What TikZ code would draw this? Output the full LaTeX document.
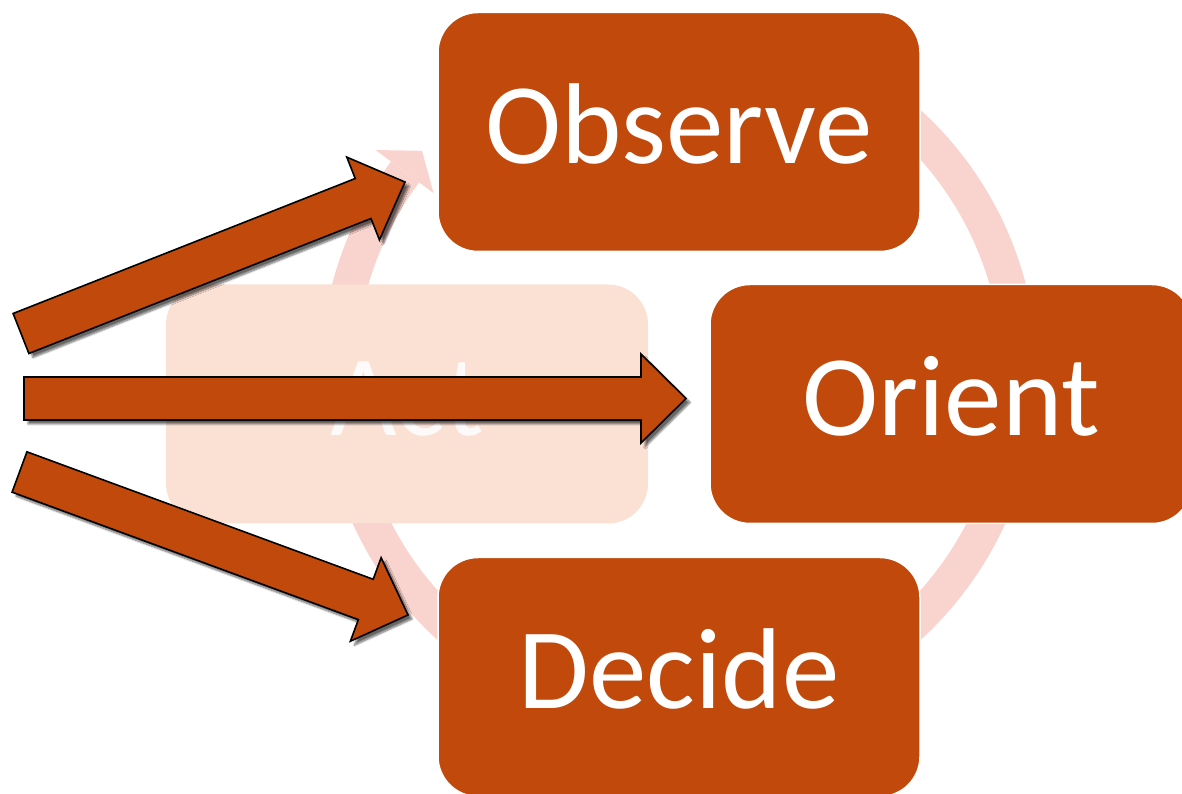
\documentclass[tikz,border=0pt]{standalone}
\usepackage{fontspec}
\setmainfont{Carlito}
\usetikzlibrary{calc,shadows.blur}
\definecolor{rust}{RGB}{192,73,11}
\definecolor{ringpink}{RGB}{249,211,205}
\definecolor{actpeach}{RGB}{251,224,212}
\newcommand\blockarr[2]{%
  \draw[blockarrow] let \p1=($(#2)-(#1)$), \n1={veclen(\x1,\y1)}, \n2={atan2(\y1,\x1)} in
    [shift={(#1)}, rotate=\n2]
    (0,-21.5) -- (\n1-45,-21.5) -- (\n1-45,-44.5) -- (\n1,0) -- (\n1-45,44.5) -- (\n1-45,21.5) -- (0,21.5) -- cycle;%
}
\begin{document}
\begin{tikzpicture}[x=1pt,y=1pt,
  box/.style={rectangle, rounded corners=40pt, minimum width=482pt, minimum height=239pt,
    fill=rust, draw=white, line width=1.5pt, text=white, inner sep=0pt,
    text height=64pt, text depth=0pt, font=\fontsize{115}{120}\selectfont},
  actbox/.style={box, fill=actpeach, draw=none, text=white!85!actpeach},
  ringline/.style={draw=ringpink, line width=35pt},
  blockarrow/.style={fill=rust, draw=black, line width=1.6pt, line join=miter,
    blur shadow={shadow xshift=4pt, shadow yshift=-4pt, shadow blur steps=8, shadow opacity=60}}]
\useasboundingbox (0,0) rectangle (1182,794);
\coordinate (ctr) at (679,419);
% cycle ring with its visible arrowhead
\draw[ringline] ($(ctr)+(143.45:341)$) arc[start angle=143.45, end angle=460, radius=341];
\fill[ringpink] ($(ctr)+(143.45:305.6)$) -- ($(ctr)+(138.9:341)$) -- ($(ctr)+(143.45:377.8)$) -- cycle;
% boxes
\node[actbox] (act) at (407,390) {Act};
\node[box] (obs) at (679,662) {Observe};
\node[box] (ori) at (951,390) {Orient};
\node[box] (dec) at (679,117) {Decide};
% block arrows
\coordinate (t1) at (21,460.5);   \coordinate (h1) at (405,612);
\coordinate (t2) at (24,395.5);   \coordinate (h2) at (686,395.5);
\coordinate (t3) at (19.5,322);   \coordinate (h3) at (408,179);
\blockarr{t1}{h1}
\blockarr{t2}{h2}
\blockarr{t3}{h3}
\end{tikzpicture}
\end{document}
